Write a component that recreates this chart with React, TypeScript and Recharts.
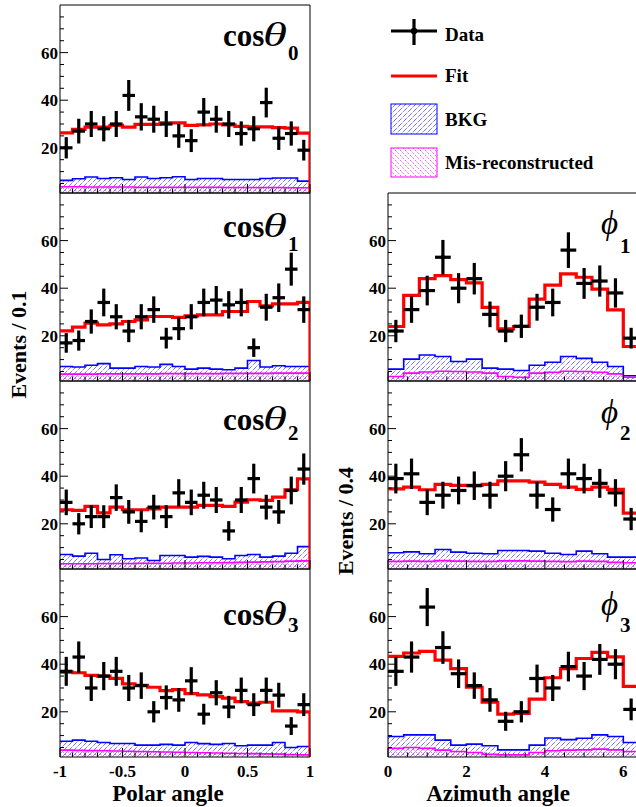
import React from 'react';
import { ComposedChart, Line, Area, Scatter, ErrorBar, XAxis, YAxis, ReferenceArea } from 'recharts';

const FONT = '"Liberation Serif", "Times New Roman", serif';
const Y_MIN = 1;
const Y_MAX = 80;

// bin edges
const cosEdges = [-1, -0.9, -0.8, -0.7, -0.6, -0.5, -0.4, -0.3, -0.2, -0.1, 0, 0.1, 0.2, 0.3, 0.4, 0.5, 0.6, 0.7, 0.8, 0.9, 1];
const phiEdges = [0, 0.4, 0.8, 1.2, 1.6, 2.0, 2.4, 2.8, 3.2, 3.6, 4.0, 4.4, 4.8, 5.2, 5.6, 6.0, 6.4];

// axis ticks
const cosXTicks = [-1, -0.9, -0.8, -0.7, -0.6, -0.5, -0.4, -0.3, -0.2, -0.1, 0, 0.1, 0.2, 0.3, 0.4, 0.5, 0.6, 0.7, 0.8, 0.9, 1];
const cosXLabels = [-1, -0.5, 0, 0.5, 1];
const phiXTicks = [0, 0.5, 1, 1.5, 2, 2.5, 3, 3.5, 4, 4.5, 5, 5.5, 6];
const phiXLabels = [0, 2, 4, 6];
const yTicks = [5, 10, 15, 20, 25, 30, 35, 40, 45, 50, 55, 60, 65, 70, 75];
const yLabels = [20, 40, 60];

// cos theta 0
const cos0Data = [20, 27, 30, 28, 30, 42, 33, 32, 30, 25, 23, 35, 32, 30, 26, 28, 39, 24, 26, 19];
const cos0Fit = [26.3, 27.7, 28.7, 28.7, 29.4, 28.7, 29.8, 29.8, 30.5, 30.5, 29.4, 29.6, 30, 29.6, 29, 28.8, 28.8, 28.5, 28.3, 26.2];
const cos0Bkg = [6.3, 7, 7.7, 7.1, 7.4, 6.7, 7.7, 7.1, 7.4, 7.8, 6.7, 7.1, 7.1, 6.7, 6.7, 6.7, 7.1, 7.3, 7.3, 6];
const cos0Mis = [3.6, 3.6, 3.5, 3.5, 3.5, 3.5, 3.4, 3.4, 3.4, 3.4, 3.4, 3.4, 3.4, 3.3, 3.3, 3.3, 3.3, 3.3, 3.2, 3.2];

// cos theta 1
const cos1Data = [17, 18, 26, 34, 28, 22, 28, 31, 19, 23, 28, 34, 35, 33, 34, 15, 32, 36, 48, 31];
const cos1Fit = [22.1, 23.6, 25.3, 24.6, 25, 26, 26.7, 28.1, 28.1, 27.7, 28.4, 28.8, 28.8, 30.2, 30.2, 34.4, 32.6, 33.4, 33.4, 34];
const cos1Bkg = [7.1, 6.9, 7.6, 8.3, 6.4, 6.4, 7.1, 6.9, 8, 7.1, 6, 6.4, 6, 5.7, 6.4, 9.6, 6.9, 7.4, 7.1, 7.1];
const cos1Mis = [3.9, 3.9, 3.9, 4, 4, 4, 4, 4, 4.1, 4.1, 4.1, 4.1, 4.1, 4.2, 4.2, 4.2, 4.2, 4.3, 4.3, 4.3];

// cos theta 2
const cos2Data = [29, 20, 23, 23, 31, 25, 21, 27, 23, 33, 29, 32, 30, 17, 30, 39, 27, 25, 34, 43];
const cos2Fit = [25.9, 25.6, 27.3, 24.6, 27, 25.9, 25.9, 26.3, 27, 27, 27, 27.7, 27.7, 27.3, 29.1, 30.1, 29.8, 31.2, 34.3, 38.9];
const cos2Bkg = [7.1, 6.4, 7.6, 5, 7, 5.3, 5.6, 4.6, 6.7, 6.7, 6, 6.3, 6, 5.3, 6.7, 7.1, 6, 6.4, 7.6, 10.4];
const cos2Mis = [3.2, 3.2, 3.2, 3.3, 3.3, 3.3, 3.4, 3.4, 3.4, 3.5, 3.5, 3.6, 3.6, 3.7, 3.8, 3.9, 4, 4.1, 4.3, 4.4];

// cos theta 3
const cos3Data = [37, 43, 30, 35, 37, 30, 31, 20, 26, 25, 33, 19, 28, 22, 29, 23, 29, 27, 14, 23];
const cos3Fit = [36.7, 36.4, 35.3, 35, 34, 31.7, 31.1, 30.3, 28.9, 29.3, 27.6, 27.1, 26.4, 25.7, 24.3, 23.6, 24, 20.4, 20.4, 20];
const cos3Bkg = [7.6, 8.1, 7.6, 7.1, 6.7, 6.7, 6, 6, 6.3, 6, 7.1, 6.6, 6.3, 6.7, 5.7, 6, 6, 7.1, 5, 5.4];
const cos3Mis = [3.9, 3.8, 3.7, 3.6, 3.5, 3.4, 3.3, 3.2, 3.1, 3, 2.9, 2.8, 2.7, 2.6, 2.5, 2.4, 2.3, 2.2, 2, 1.9];

// phi 1
const phi1Data = [22, 31, 39, 53, 40, 44, 29, 22, 24, 32, 34, 56, 42, 43, 38, 19];
const phi1Fit = [23.9, 37, 44, 45.3, 43.6, 42.2, 31.9, 22.9, 23.9, 35.4, 41.3, 46, 44.6, 39.6, 30.9, 15.5];
const phi1Bkg = [6, 10.2, 11.9, 11.3, 9.2, 10.2, 6.4, 6, 5.4, 7.6, 8.9, 11.3, 10.5, 8.9, 7.1, 3.2];
const phi1Mis = [2.9, 4.3, 4.8, 5.1, 5, 4.8, 4.3, 2.9, 2.6, 4.3, 4.7, 5.1, 5, 4.7, 4, 2.6];

// phi 2
const phi2Data = [39, 41, 29, 32, 34, 36, 32, 40, 49, 32, 26, 41, 39, 37, 33, 22];
const phi2Fit = [34.7, 35.4, 34.3, 36.6, 36.1, 36.1, 36.6, 38, 38, 37.5, 36.6, 35.4, 34.5, 35.4, 34.5, 24.5];
const phi2Bkg = [7.8, 8.2, 7.4, 9.2, 8.1, 7.6, 7.4, 8.8, 8.8, 8.5, 7.6, 7.1, 8.5, 7.4, 6, 6];
const phi2Mis = [4.2, 4.3, 4.2, 4.5, 4.3, 4.2, 4.2, 4.4, 4.4, 4.3, 4.2, 4.1, 4.3, 4.2, 3.8, 3.6];

// phi 3
const phi3Data = [37, 43, 64, 47, 36, 31, 25, 16, 20, 34, 30, 39, 35, 42, 40, 21];
const phi3Fit = [43.3, 44.7, 45.4, 41.7, 38.1, 30.3, 24, 19, 19.3, 25.3, 34.3, 38.1, 42.4, 45, 43.1, 30.7];
const phi3Bkg = [9.6, 10.3, 10.3, 8.1, 6, 6.4, 5.7, 4, 4, 6, 9, 8.3, 8.9, 10.3, 9.6, 7.1];
const phi3Mis = [4.7, 5, 4.7, 3.9, 3.3, 2.9, 2.1, 1.9, 1.9, 2.9, 3.6, 3.9, 4, 4.3, 4, 3.3];

type PanelProps = {
  edges: number[];
  data: number[];
  fit: number[];
  bkg: number[];
  mis: number[];
  xDomain: [number, number];
  xTicks: number[];
  xLabels: number[];
  halfWidth: number;
  left: number;
  top: number;
  width: number;
  height: number;
  margin: { top: number; right: number; bottom: number; left: number };
  showXLabels: boolean;
  dropAtEnd: boolean;
};

function stepRows(edges: number[], vals: number[]) {
  const n = vals.length;
  return edges.map((e, i) => ({ x: e, y: vals[Math.min(i, n - 1)] }));
}

function Panel(p: PanelProps) {
  const n = p.data.length;
  const fitRows = stepRows(p.edges, p.fit);
  if (p.dropAtEnd) fitRows.push({ x: p.edges[n], y: Y_MIN });
  const points = p.data.map((v, i) => ({
    x: (p.edges[i] + p.edges[i + 1]) / 2,
    y: v,
    ey: Math.sqrt(v),
    ex: p.halfWidth,
  }));

  const renderXTick = (props: any) => {
    const { x, y, payload } = props;
    const v = Number(payload.value);
    const major = p.xLabels.some((l) => Math.abs(l - v) < 1e-6);
    return (
      <g>
        <line x1={x} y1={y} x2={x} y2={y - (major ? 9 : 4.5)} stroke="#000" strokeWidth={1} />
        {p.showXLabels && major ? (
          <text x={x} y={y + 20} textAnchor="middle" fontFamily={FONT} fontWeight="bold" fontSize={17} fill="#000">
            {String(v)}
          </text>
        ) : null}
      </g>
    );
  };

  const renderYTick = (props: any) => {
    const { x, y, payload } = props;
    const v = Number(payload.value);
    const major = yLabels.includes(v);
    return (
      <g>
        <line x1={x} y1={y} x2={x + (major ? 8 : 4)} y2={y} stroke="#000" strokeWidth={1} />
        {major ? (
          <text x={x - 2} y={y + 6} textAnchor="end" fontFamily={FONT} fontWeight="bold" fontSize={17} fill="#000">
            {String(v)}
          </text>
        ) : null}
      </g>
    );
  };

  return (
    <div style={{ position: 'absolute', left: p.left, top: p.top }}>
      <ComposedChart width={p.width} height={p.height} margin={p.margin}>
        <XAxis
          type="number"
          dataKey="x"
          domain={p.xDomain}
          allowDataOverflow
          ticks={p.xTicks}
          interval={0}
          tickSize={0}
          tickMargin={0}
          axisLine={false}
          tickLine={false}
          tick={renderXTick}
          height={1}
        />
        <YAxis
          type="number"
          domain={[Y_MIN, Y_MAX]}
          allowDataOverflow
          ticks={yTicks}
          interval={0}
          tickSize={0}
          tickMargin={0}
          axisLine={false}
          tickLine={false}
          tick={renderYTick}
          width={60}
        />
        <Area
          data={stepRows(p.edges, p.bkg)}
          dataKey="y"
          type="stepAfter"
          stroke="#0000ff"
          strokeWidth={1.6}
          fill="url(#bkgPat)"
          fillOpacity={1}
          dot={false}
          activeDot={false}
          isAnimationActive={false}
        />
        <Area
          data={stepRows(p.edges, p.mis)}
          dataKey="y"
          type="stepAfter"
          stroke="#ff00ff"
          strokeWidth={1.6}
          fill="url(#misPat)"
          fillOpacity={1}
          dot={false}
          activeDot={false}
          isAnimationActive={false}
        />
        <Line
          data={fitRows}
          dataKey="y"
          type="stepAfter"
          stroke="#ff0000"
          strokeWidth={3.2}
          dot={false}
          activeDot={false}
          isAnimationActive={false}
        />
        <Scatter
          data={points}
          dataKey="y"
          fill="#000"
          isAnimationActive={false}
          shape={(sp: any) => <circle cx={sp.cx} cy={sp.cy} r={2.2} fill="#000" />}
        >
          <ErrorBar dataKey="ey" direction="y" width={0} stroke="#000" strokeWidth={3.2} />
          <ErrorBar dataKey="ex" direction="x" width={0} stroke="#000" strokeWidth={3.2} />
        </Scatter>
        <ReferenceArea
          x1={p.xDomain[0]}
          x2={p.xDomain[1]}
          y1={Y_MIN}
          y2={Y_MAX}
          fill="none"
          fillOpacity={0}
          stroke="#000"
          strokeWidth={1}
        />
      </ComposedChart>
    </div>
  );
}

const PANEL_H = 188;
const leftTops = [5, 193, 381, 569];

function CosTitle({ y, sub, subY }: { y: number; sub: string; subY: number }) {
  const t = { fontFamily: FONT, fill: '#000' };
  return (
    <g>
      <text x={223} y={y} fontSize={31} fontWeight="bold" {...t}>cos</text>
      <text x={263} y={y} fontSize={33} fontStyle="italic" textLength={24} lengthAdjust="spacingAndGlyphs" {...t}>θ</text>
      <text x={288} y={subY} fontSize={21} fontWeight="bold" {...t}>{sub}</text>
    </g>
  );
}

function PhiTitle({ y, sub, subY }: { y: number; sub: string; subY: number }) {
  const t = { fontFamily: FONT, fill: '#000' };
  return (
    <g>
      <text x={601} y={y} fontSize={33} fontStyle="italic" {...t}>ϕ</text>
      <text x={620} y={subY} fontSize={21} fontWeight="bold" {...t}>{sub}</text>
    </g>
  );
}

export default function App() {
  const leftCommon = {
    edges: cosEdges,
    xDomain: [-1, 1] as [number, number],
    xTicks: cosXTicks,
    xLabels: cosXLabels,
    halfWidth: 0.05,
    left: 0,
    width: 330,
    dropAtEnd: true,
  };
  const rightCommon = {
    edges: phiEdges,
    xDomain: [0, 6.4] as [number, number],
    xTicks: phiXTicks,
    xLabels: phiXLabels,
    halfWidth: 0.2,
    left: 328,
    width: 321,
    dropAtEnd: false,
  };
  const mSmall = (right: number) => ({ top: 5, right, bottom: 4, left: 0 });
  const mBig = (right: number) => ({ top: 5, right, bottom: 44, left: 0 });

  const txt = { fontFamily: FONT, fontWeight: 'bold' as const, fill: '#000' };

  return (
    <div style={{ position: 'fixed', left: 0, top: 0, width: 636, height: 807, overflow: 'hidden', background: '#fff' }}>
      <Panel {...leftCommon} data={cos0Data} fit={cos0Fit} bkg={cos0Bkg} mis={cos0Mis} top={leftTops[0] - 5} height={PANEL_H + 10} margin={mSmall(20)} showXLabels={false} />
      <Panel {...leftCommon} data={cos1Data} fit={cos1Fit} bkg={cos1Bkg} mis={cos1Mis} top={leftTops[1] - 5} height={PANEL_H + 10} margin={mSmall(20)} showXLabels={false} />
      <Panel {...leftCommon} data={cos2Data} fit={cos2Fit} bkg={cos2Bkg} mis={cos2Mis} top={leftTops[2] - 5} height={PANEL_H + 10} margin={mSmall(20)} showXLabels={false} />
      <Panel {...leftCommon} data={cos3Data} fit={cos3Fit} bkg={cos3Bkg} mis={cos3Mis} top={leftTops[3] - 5} height={PANEL_H + 50} margin={mBig(20)} showXLabels={true} />

      <Panel {...rightCommon} data={phi1Data} fit={phi1Fit} bkg={phi1Bkg} mis={phi1Mis} top={leftTops[1] - 5} height={PANEL_H + 10} margin={mSmall(10)} showXLabels={false} />
      <Panel {...rightCommon} data={phi2Data} fit={phi2Fit} bkg={phi2Bkg} mis={phi2Mis} top={leftTops[2] - 5} height={PANEL_H + 10} margin={mSmall(10)} showXLabels={false} />
      <Panel {...rightCommon} data={phi3Data} fit={phi3Fit} bkg={phi3Bkg} mis={phi3Mis} top={leftTops[3] - 5} height={PANEL_H + 50} margin={mBig(10)} showXLabels={true} />

      <svg width={636} height={807} style={{ position: 'absolute', left: 0, top: 0, pointerEvents: 'none' }}>
        <defs>
          <pattern id="bkgPat" patternUnits="userSpaceOnUse" width={5} height={5}>
            <path d="M0,5 L5,0 M-1,1 L1,-1 M4,6 L6,4" stroke="#0000ff" strokeWidth={0.8} strokeDasharray="1 1" />
          </pattern>
          <pattern id="misPat" patternUnits="userSpaceOnUse" width={5} height={5}>
            <path d="M0,0 L5,5 M-1,4 L1,6 M4,-1 L6,1" stroke="#ff00ff" strokeWidth={0.9} strokeDasharray="1 1.4" />
          </pattern>
        </defs>

        {/* panel titles */}
        <CosTitle y={46} sub="0" subY={60} />
        <CosTitle y={237} sub="1" subY={251} />
        <CosTitle y={430} sub="2" subY={440} />
        <CosTitle y={625} sub="3" subY={632} />

        <PhiTitle y={234} sub="1" subY={253} />
        <PhiTitle y={423} sub="2" subY={440} />
        <PhiTitle y={615} sub="3" subY={632} />

        {/* axis titles */}
        <text x={168} y={801} textAnchor="middle" fontSize={23} {...txt}>Polar angle</text>
        <text x={498} y={801} textAnchor="middle" fontSize={23} {...txt}>Azimuth angle</text>
        <text transform="translate(25.5,344.5) rotate(-90)" textAnchor="middle" fontSize={22} {...txt}>Events / 0.1</text>
        <text transform="translate(353,521) rotate(-90)" textAnchor="middle" fontSize={22} {...txt}>Events / 0.4</text>

        {/* legend */}
        <line x1={391} y1={31} x2={437} y2={31} stroke="#000" strokeWidth={3.2} />
        <line x1={414} y1={19} x2={414} y2={45} stroke="#000" strokeWidth={3.2} />
        <circle cx={414} cy={31} r={3.2} fill="#000" />
        <text x={445} y={40.5} fontSize={19} {...txt}>Data</text>

        <line x1={391} y1={76} x2={437} y2={76} stroke="#ff0000" strokeWidth={3.2} />
        <text x={445} y={82} fontSize={19} {...txt}>Fit</text>

        <rect x={391} y={104} width={46} height={30} fill="url(#bkgPat)" stroke="#0000ff" strokeWidth={1} />
        <text x={445} y={126} fontSize={19} {...txt}>BKG</text>

        <rect x={391} y={148} width={46} height={29} fill="url(#misPat)" stroke="#ff00ff" strokeWidth={1} />
        <text x={445} y={169} fontSize={19} {...txt}>Mis-reconstructed</text>
      </svg>
    </div>
  );
}
